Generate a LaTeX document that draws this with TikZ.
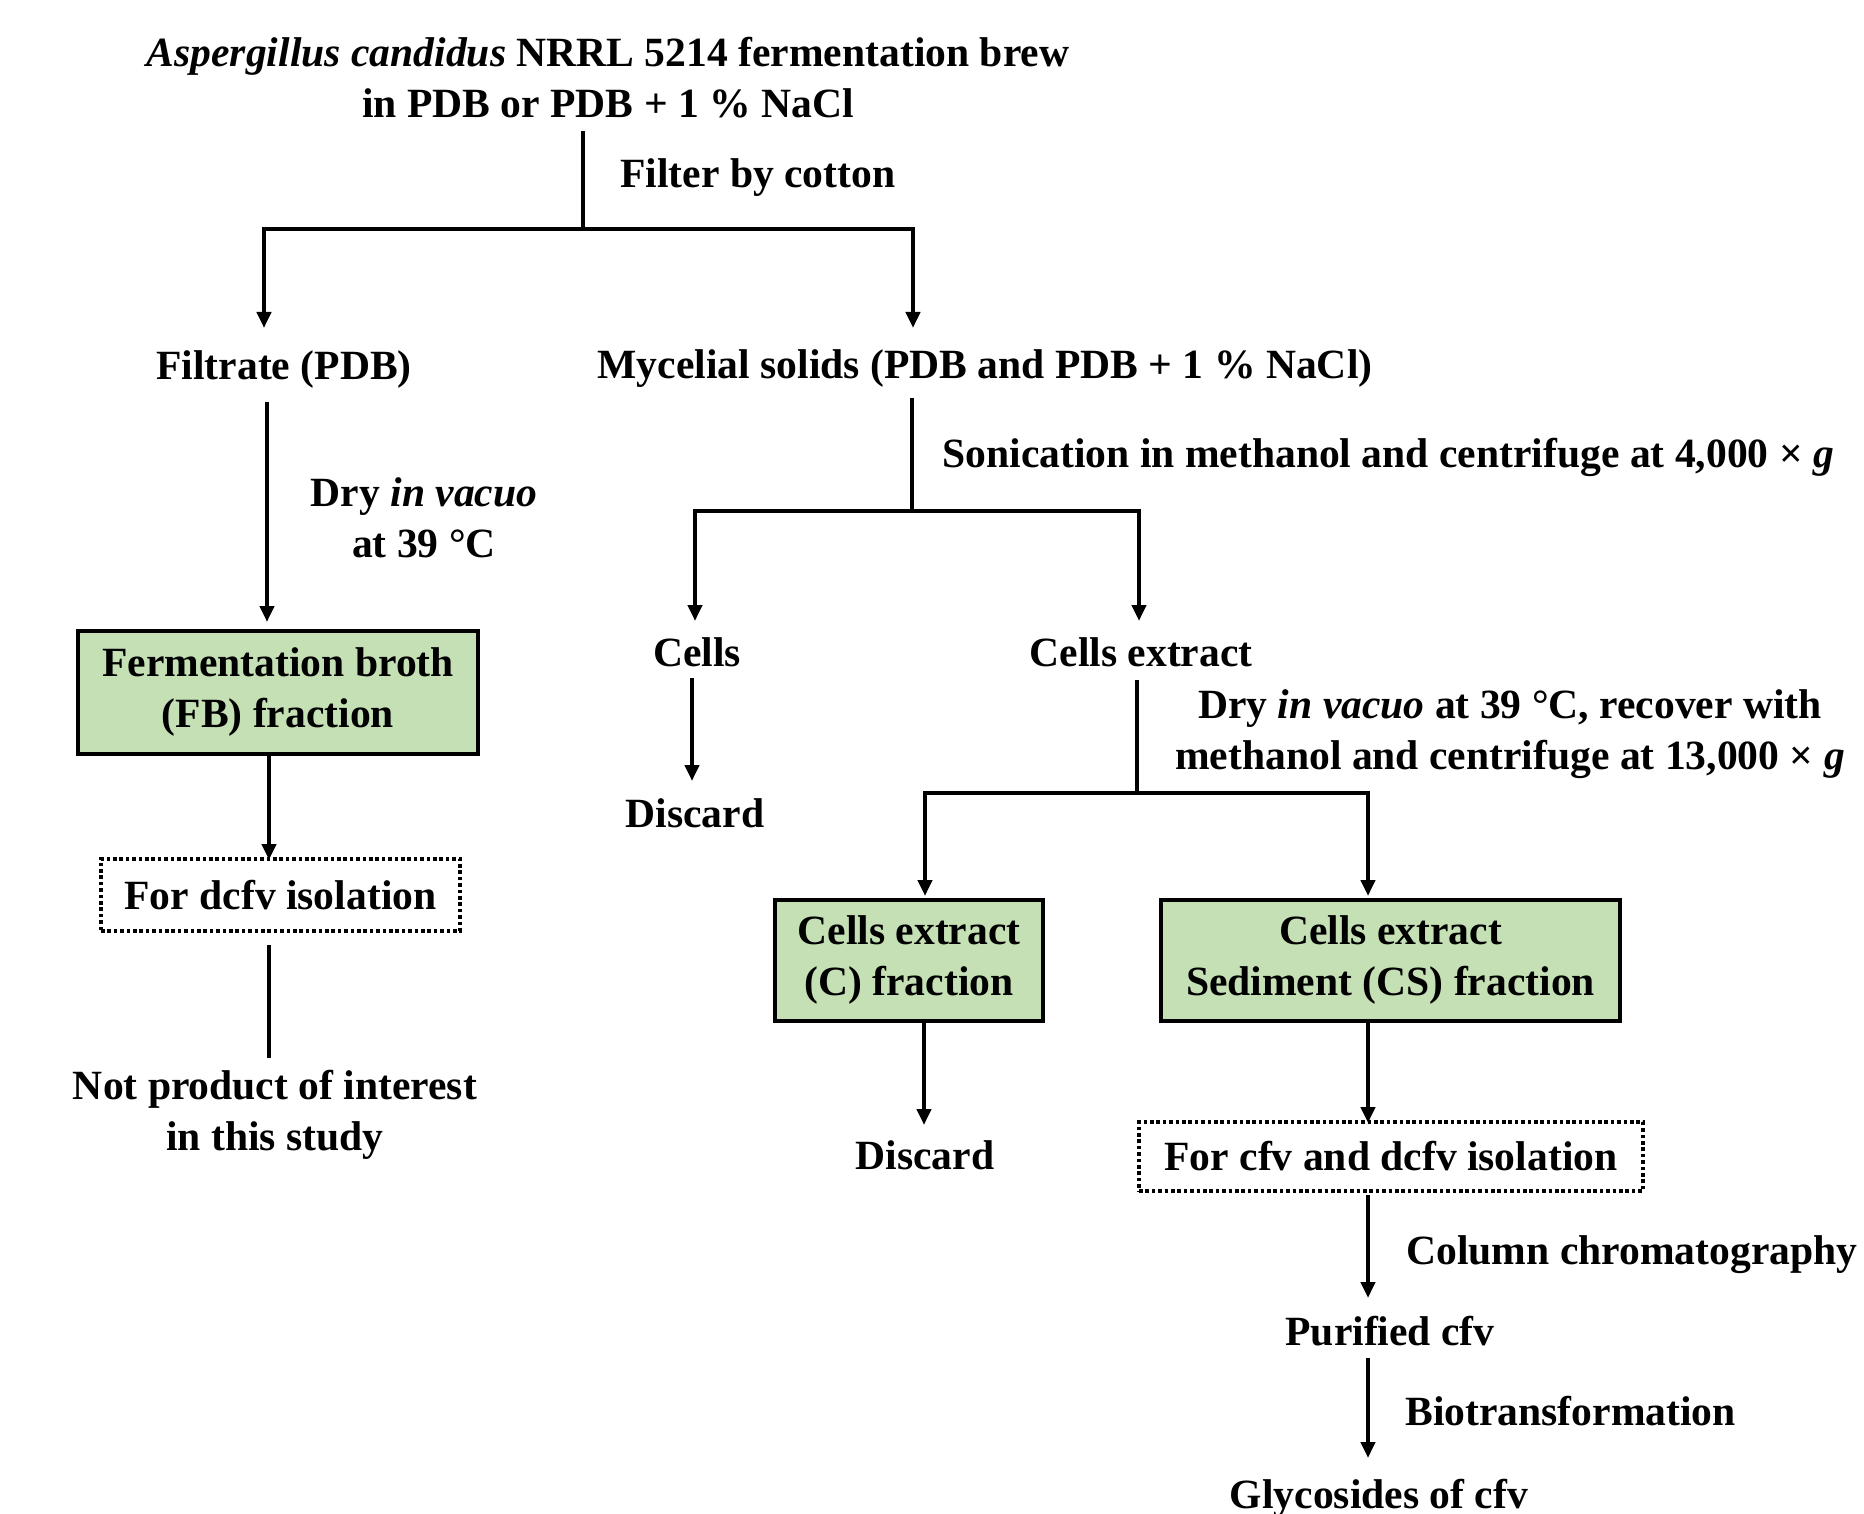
\documentclass[tikz,border=0pt]{standalone}
\usepackage{fontspec}
\setmainfont{Liberation Serif}
\usetikzlibrary{arrows.meta}
\definecolor{boxgreen}{HTML}{C5E0B4}
\begin{document}
\begin{tikzpicture}[x=0.5pt,y=-0.5pt,
  every node/.style={font=\fontsize{20.8}{25.5}\selectfont\bfseries, inner sep=0pt, align=center},
  ln/.style={line width=2pt},
  arr/.style={line width=2pt, -{Triangle[length=8pt,width=7pt]}},
  greenbox/.style={draw, line width=2pt, fill=boxgreen, minimum height=60.5pt},
  dotbox/.style={draw, line width=2pt, dash pattern=on 1.8pt off 1.4pt},
  lbl/.style={anchor=west, align=left}]
\useasboundingbox (0,0) rectangle (1864,1514);
% nodes
\node (title) at (608,78) {\textit{Aspergillus candidus} NRRL 5214 fermentation brew\\in PDB or PDB + 1 \% NaCl};
\node[lbl] (filt) at (620,178) {Filter by cotton};
\node (filtrate) at (284,369) {Filtrate (PDB)};
\node (myc) at (985,369) {Mycelial solids (PDB and PDB + 1 \% NaCl)};
\node (dry1) at (424,518) {Dry \textit{in vacuo}\\at 39 °C};
\node[greenbox, minimum width=200pt, minimum height=61.5pt] (fb) at (278,692) {Fermentation broth\\(FB) fraction};
\node[dotbox, minimum width=179.5pt, minimum height=36pt] (iso1) at (280.5,895) {For dcfv isolation};
\node (notp) at (275,1115) {Not product of interest\\in this study};
\node[lbl] (son) at (942,457) {Sonication in methanol and centrifuge at 4,000 × \textit{g}};
\node (cells) at (697,652) {Cells};
\node (cext) at (1141,652) {Cells extract};
\node (disc1) at (695,813) {Discard};
\node (dry2) at (1510,734) {Dry \textit{in vacuo} at 39 °C, recover with\\methanol and centrifuge at 13,000 × \textit{g}};
\node[greenbox, minimum width=134pt] (cbox) at (909,960) {Cells extract\\(C) fraction};
\node[greenbox, minimum width=229.5pt] (csbox) at (1390.5,960) {Cells extract\\Sediment (CS) fraction};
\node (disc2) at (925,1155) {Discard};
\node[dotbox, minimum width=252pt, minimum height=34.5pt] (iso2) at (1391,1156.5) {For cfv and dcfv isolation};
\node[lbl] (col) at (1406,1255) {Column chromatography};
\node (pur) at (1390,1331) {Purified cfv};
\node[lbl] (bio) at (1405,1411) {Biotransformation};
\node (gly) at (1379,1498) {Glycosides of cfv};
% coordinates
\coordinate (t0) at (583,131);
\coordinate (j1) at (583,229);
\coordinate (a1) at (264,328);
\coordinate (a2) at (913,328);
\coordinate (f0) at (267,402);
\coordinate (fbt) at (267,622);
\coordinate (fbb) at (269,754);
\coordinate (i1t) at (269,860);
\coordinate (i1b) at (269,945);
\coordinate (np) at (269,1058);
\coordinate (m0) at (912,398);
\coordinate (j2) at (912,511);
\coordinate (a3) at (695,621);
\coordinate (a4) at (1139,621);
\coordinate (c0) at (692,678);
\coordinate (c1) at (692,781);
\coordinate (e0) at (1137,680);
\coordinate (j3) at (1137,793);
\coordinate (a5) at (925,896);
\coordinate (a6) at (1368,896);
\coordinate (cb) at (924,1021);
\coordinate (d2) at (924,1125);
\coordinate (csb) at (1368,1021);
\coordinate (i2t) at (1368,1123);
\coordinate (i2b) at (1368,1195);
\coordinate (p0) at (1368,1298);
\coordinate (p1) at (1368,1358);
\coordinate (g0) at (1368,1458);
% connectors
\draw[ln] (t0) -- (j1);
\draw[arr] (j1) -| (a1);
\draw[arr] (j1) -| (a2);
\draw[arr] (f0) -- (fbt);
\draw[arr] (fbb) -- (i1t);
\draw[ln] (i1b) -- (np);
\draw[ln] (m0) -- (j2);
\draw[arr] (j2) -| (a3);
\draw[arr] (j2) -| (a4);
\draw[arr] (c0) -- (c1);
\draw[ln] (e0) -- (j3);
\draw[arr] (j3) -| (a5);
\draw[arr] (j3) -| (a6);
\draw[arr] (cb) -- (d2);
\draw[arr] (csb) -- (i2t);
\draw[arr] (i2b) -- (p0);
\draw[arr] (p1) -- (g0);
\end{tikzpicture}
\end{document}
